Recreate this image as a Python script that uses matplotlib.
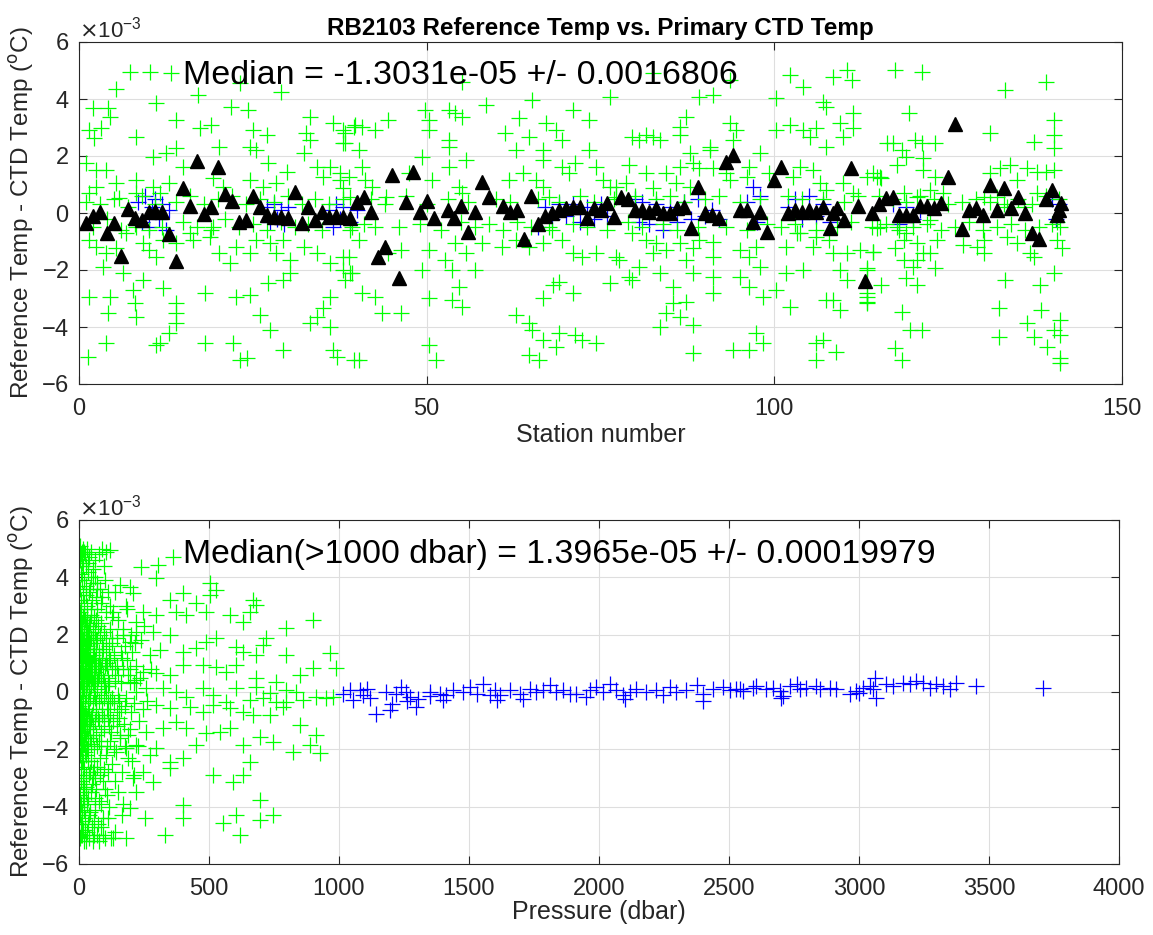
import numpy as np
import matplotlib
matplotlib.use("Agg")
import matplotlib.pyplot as plt
from matplotlib.ticker import ScalarFormatter, MultipleLocator

plt.rcParams['font.family'] = ['Liberation Sans', 'DejaVu Sans']
plt.rcParams['axes.unicode_minus'] = False

# ---------------- DATA (values in units of 1e-3 degC) ----------------
title_text = "RB2103 Reference Temp vs. Primary CTD Temp"
top_median_text = "Median = -1.3031e-05 +/- 0.0016806"
bot_median_text = "Median(>1000 dbar) = 1.3965e-05 +/- 0.00019979"

# top panel: green crosses (station, diff)
top_green = [
    (7.3,4.96),(10.2,4.96),(13.3,4.90),(5.3,4.34),(11.1,3.85),(2.0,3.67),(4.1,3.67),(4.4,3.38),(1.5,2.91),(3.2,2.97),
    (2.2,2.62),(8.2,2.68),(14.0,3.26),(17.4,2.97),(19.0,3.09),(20.2,2.33),(17.1,4.14),(21.9,3.73),(24.3,3.61),(25.0,2.91),
    (27.0,2.74),(24.6,2.33),(25.5,2.21),(27.2,1.74),(23.1,4.55),(29.1,4.26),(33.2,3.38),(32.7,2.80),(33.2,2.56),(32.3,2.09),
    (36.6,3.15),(38.0,2.91),(38.0,2.44),(36.1,1.63),(37.5,1.39),(39.5,3.03),
    (1.0,1.74),(2.5,1.51),(3.9,1.51),(5.3,1.04),(8.2,1.16),(10.6,1.98),(12.5,2.09),(14.0,2.27),(15.0,1.63),(13.0,1.04),
    (11.6,0.69),(10.6,0.92),(19.3,1.22),(20.7,0.92),(24.6,1.16),(26.5,0.92),(28.4,1.04),(29.9,1.45),(34.2,1.63),(35.1,1.27),
    (37.5,1.16),(38.0,0.87),(39.0,0.57),(8.2,0.69),(5.8,0.51),(2.5,0.92),(1.5,0.69),
    (1.5,-0.95),(2.5,-1.18),(3.9,-1.42),(5.3,-1.24),(3.4,-1.88),(6.3,-2.12),(9.2,-1.06),(11.1,-1.53),(10.1,-1.30),(12.1,-0.95),
    (14.0,-1.06),(15.9,-0.71),(16.4,-0.95),(18.8,-0.83),(19.3,-0.48),(20.2,-1.42),(21.7,-1.77),(22.6,-1.18),(24.6,-1.42),(25.5,-0.95),
    (27.5,-1.06),(28.4,-1.42),(29.4,-0.95),(30.3,-1.65),(32.3,-1.18),(34.2,-1.42),(36.1,-1.77),(38.0,-1.53),(39.0,-2.12),(8.2,-0.48),
    (6.8,-0.71),
    (9.2,-2.35),(7.7,-2.70),(8.0,-3.17),(8.2,-3.64),(12.1,-2.64),(14.0,-3.17),(14.0,-3.52),(14.0,-3.87),(13.0,-4.22),(11.6,-4.57),
    (1.5,-2.94),(4.4,-2.94),(4.1,-3.52),(3.9,-4.57),(1.25,-5.04),(11.1,-4.63),(18.1,-2.82),(18.1,-4.57),(22.6,-2.94),(24.6,-2.88),
    (22.2,-4.57),(24.1,-5.10),(23.1,-5.16),(27.2,-2.47),(29.4,-2.35),(30.3,-2.12),(26.0,-3.58),(27.5,-4.11),(29.4,-4.81),(33.2,-3.87),
    (34.2,-3.64),(36.1,-3.99),(35.1,-3.35),(38.0,-2.00),(36.1,-2.94),(36.6,-4.81),(37.1,-5.04),(39.5,-5.16),
    (55.1,4.61),(49.8,3.61),(50.3,3.26),(50.3,2.91),(53.2,3.61),(54.1,3.50),(55.1,3.38),(58.5,3.79),(65.2,3.96),(63.3,3.32),
    (61.3,2.80),(67.1,3.15),(68.6,2.91),(69.5,2.56),(71.0,3.61),(73.4,3.26),(76.3,4.08),(39.7,3.09),(40.7,3.03),(42.6,2.91),
    (44.5,3.26),(38.3,2.80),(38.3,2.44),(40.2,2.21),(53.2,2.56),(53.2,2.33),(62.8,2.21),(64.7,2.68),(66.7,2.21),(73.4,2.21),
    (71.4,1.74),(66.7,1.86),(69.5,1.63),(55.6,1.86),(53.2,1.63),(49.3,1.98),(47.4,1.39),(40.7,1.63),(38.8,1.27),(41.2,1.16),
    (42.2,0.92),(44.1,0.57),(50.8,1.16),(54.6,0.92),(55.1,0.69),(61.8,1.16),(63.8,1.39),(65.7,1.16),(66.7,0.92),(67.6,0.57),
    (70.5,1.39),(74.3,1.63),(75.3,1.16),(76.3,0.92),(77.2,0.57),
    (39.2,-0.48),(40.2,-0.95),(38.8,-1.53),(42.6,-0.48),(44.5,-1.42),(46.3,-1.30),(50.3,-1.30),(52.7,-1.65),(54.1,-1.06),(55.6,-1.42),
    (57.9,-1.06),(60.9,-1.18),(62.8,-0.95),(64.7,-1.18),(66.7,-1.06),(67.6,-0.48),(69.5,-0.95),(71.0,-1.42),(72.4,-1.53),(74.3,-1.42),
    (77.2,-1.53),(39.2,-2.12),(38.3,-2.35),(40.7,-2.82),(42.6,-2.94),(43.6,-3.52),(46.3,-3.52),(49.3,-2.00),(53.7,-2.00),(57.0,-2.00),
    (54.6,-2.58),(50.3,-2.99),(53.7,-3.05),(55.1,-3.29),(62.8,-3.58),(64.7,-3.87),(66.7,-2.99),(68.1,-2.53),(69.0,-2.41),(71.0,-2.82),
    (76.3,-2.47),(65.2,-4.11),(66.7,-4.46),(69.0,-4.22),(71.4,-4.28),(72.4,-4.46),(74.3,-4.57),(68.6,-4.69),(64.7,-4.98),(66.2,-5.16),
    (50.3,-4.63),(51.3,-5.16),(40.2,-5.16),
    (82.5,4.90),(89.2,4.08),(91.2,4.14),(93.6,4.67),(100.3,4.02),(102.2,4.84),(104.1,4.43),(107.0,3.91),(108.4,4.78),(110.4,5.02),
    (111.1,4.67),(107.5,3.73),(111.3,3.50),(109.4,3.15),(111.3,2.97),(104.1,2.91),(102.2,3.09),(100.3,2.91),(106.0,2.97),(105.1,2.68),
    (107.5,2.33),(109.9,2.68),(86.4,3.03),(87.3,3.38),(86.4,2.74),(79.6,2.68),(80.6,2.56),(81.5,2.74),(82.5,2.68),(83.5,2.56),
    (90.7,2.33),(93.6,3.15),(94.5,2.91),(94.1,2.56),(87.8,2.09),(88.3,1.74),(90.7,2.21),(91.2,1.57),(89.2,1.57),(97.9,2.09),
    (99.3,1.39),(96.4,1.63),(96.0,1.27),(81.5,1.39),(84.4,1.39),(86.4,1.63),(85.9,1.04),(79.1,1.68),(77.2,0.92),(78.7,1.04),
    (82.5,0.87),(87.8,0.92),(93.0,1.39),(93.6,1.16),(102.7,1.27),(103.7,1.63),(105.6,1.51),(106.5,1.04),(107.5,0.81),(109.9,1.04),
    (111.3,0.69),(114.2,1.39),(115.2,1.27),(116.2,2.44),
    (79.6,-0.71),(81.5,-0.95),(83.0,-1.06),(84.4,-1.30),(86.4,-1.06),(88.3,-1.24),(89.2,-0.95),(91.2,-1.01),(82.5,-1.42),(80.6,-1.88),
    (79.6,-2.35),(83.5,-2.12),(85.4,-2.58),(87.3,-1.65),(88.3,-2.12),(91.2,-1.53),(91.2,-2.23),(91.2,-2.82),(95.0,-1.30),(96.4,-1.53),
    (97.4,-1.18),(97.9,-1.88),(95.0,-2.23),(96.4,-2.58),(98.4,-2.94),(100.3,-2.70),(101.7,-1.18),(103.7,-0.71),(101.7,-2.12),(104.1,-2.00),
    (105.6,-1.18),(106.0,-0.83),(107.9,-0.95),(108.4,-1.42),(110.4,-1.42),(109.4,-2.00),(110.4,-2.35),(112.3,-1.30),(114.2,-1.36),(115.2,-0.48),
    (113.3,-2.00),(113.3,-2.82),(113.3,-3.17),(108.4,-3.05),(109.4,-3.40),(107.5,-3.05),(102.2,-3.29),(103.2,-0.71),(83.5,-3.99),(84.4,-3.52),
    (85.4,-3.17),(86.4,-3.64),(87.3,-3.11),(88.3,-3.93),(79.1,-2.23),(77.7,-1.65),(88.3,-4.92),(94.1,-4.81),(96.4,-4.81),(97.4,-4.22),
    (98.4,-4.57),(106.0,-4.57),(107.0,-4.46),(106.0,-5.16),(108.9,-4.87),
    (117.3,5.02),(121.2,4.96),(133.2,4.32),(139.1,4.61),(119.3,3.50),(131.0,2.80),(137.3,2.50),(140.2,3.26),(140.2,2.74),(140.2,2.27),
    (117.1,2.44),(118.3,2.21),(120.2,2.56),(121.2,2.44),(123.1,2.44),(117.6,1.68),(119.0,1.98),(121.4,1.92),(121.4,1.51),(123.1,1.27),
    (113.3,1.27),(114.7,1.27),(115.4,1.22),(131.0,1.39),(132.5,1.57),(133.9,1.68),(136.3,1.57),(137.8,1.45),(139.0,1.45),(140.2,1.51),
    (134.9,1.16),(122.4,0.81),(124.3,0.69),(118.6,0.69),(120.5,0.57),(130.1,0.57),(132.0,0.57),(133.5,0.22),(135.9,0.22),(137.8,0.69),
    (140.7,-0.30),(141.1,-0.48),(114.7,-0.54),(117.6,-0.48),(119.0,-0.71),(122.4,-0.25),(123.4,-0.95),(118.6,-0.95),(120.5,-1.06),(127.2,-1.12),
    (129.1,-1.18),(130.1,-0.95),(130.1,-1.42),(133.5,-0.83),(134.9,-1.06),(136.8,-1.42),(137.3,-1.53),(140.7,-0.95),(141.4,-1.24),(114.2,-1.36),
    (117.3,-1.24),(118.6,-1.65),(120.5,-1.65),(120.0,-1.88),(121.4,-1.42),(122.4,-1.42),(123.1,-1.94),(113.3,-1.94),(119.0,-2.29),(120.5,-2.53),
    (115.4,-2.53),(113.3,-2.94),(113.3,-3.11),(133.2,-2.35),(138.2,-2.53),(140.2,-2.12),(118.3,-3.46),(119.5,-4.11),(121.2,-4.11),(132.3,-3.35),
    (138.3,-3.40),(136.3,-3.87),(141.1,-3.75),(132.3,-4.34),(137.3,-4.34),(140.2,-4.11),(141.1,-4.28),(139.2,-4.69),(117.3,-4.75),(118.3,-5.16),
    (141.1,-5.10),(141.1,-5.27),
    # dense band around zero
    (1,0.4),(2,-0.5),(3,0.3),(4,-0.2),(5,0.5),(6,-0.6),(7,0.2),(8,-0.4),(9,0.6),(10,-0.6),(11,0.3),(12,-0.5),(14,0.4),(15,-0.3),
    (16,0.6),(17,-0.5),(18,0.3),(19,-0.6),(20,0.5),(21,-0.2),(22,0.6),(23,-0.5),(24,0.3),(25,-0.4),(26,0.5),(27,-0.6),(28,0.4),
    (29,-0.3),(30,0.6),(31,-0.5),(32,0.3),(33,-0.4),(34,0.5),(35,-0.6),(36,0.3),(38,0.5),(39,-0.6),(41,-0.4),(42,0.5),(44,0.3),
    (46,-0.5),(47,0.6),(49,-0.4),(50,0.3),(52,-0.6),(53,0.5),(55,-0.3),(56,0.4),(57,-0.5),(59,-0.4),(60,0.5),(61,-0.6),(62,0.4),
    (63,-0.3),(65,-0.5),(66,0.5),(68,-0.6),(69,0.4),(71,-0.4),(72,0.6),(73,-0.5),(74,0.4),(76,-0.6),(77,0.5),(79,-0.3),(80,0.6),
    (81,-0.5),(83,0.5),(84,-0.4),(85,0.6),(86,-0.6),(87,0.4),(89,-0.5),(90,0.5),(92,0.6),(93,-0.5),(95,0.4),(96,-0.6),(98,0.5),
    (99,-0.4),(101,-0.5),(102,0.6),(103,-0.4),(104,0.5),(106,-0.6),(107,0.5),(109,-0.5),(110,0.4),(111,-0.3),(112,0.6),(114,-0.5),
    (115,0.6),(116,-0.4),(117,0.5),(118,-0.6),(119,0.4),(120,-0.5),(121,0.6),(122,-0.4),(123,0.5),(124,-0.6),(125,0.3),(126,-0.5),
    (127,0.4),(128,-0.3),(129,0.5),(130,-0.6),(131,0.4),(132,-0.5),(133,0.3),(134,-0.4),(135,0.5),(136,-0.6),(137,0.3),(138,-0.5),
    (139,0.6),(140,-0.4),(141,0.5),
]

# top panel: blue crosses (deep bottles, station, diff)
top_blue = [
    (8.5,0.4),(9,-0.3),(9.5,0.6),(10,-0.5),(10.5,0.2),(11,0.5),(11.5,-0.2),(12,0.3),(12.5,-0.6),(13,0.1),
    (27,0.2),(27.5,-0.3),(28,0.3),(28.5,-0.2),(29,0.1),(29.5,-0.4),(30,0.2),
    (36,0.1),(36.5,-0.5),(37,0.3),(37.5,-0.2),(38,0.2),(39,-0.3),(40,0.1),
    (66,-0.5),(67,0.2),(68,-0.2),(69,0.3),(70,-0.1),(71,0.3),(72,-0.3),(73,0.2),(74,-0.2),(75,0.3),(76,-0.1),
    (80,0.5),(80.5,-0.3),(81,0.4),(82,-0.4),(83,0.3),(84,-0.6),(85,0.2),(86,-0.3),(87,0.4),(88,-0.2),(89,0.5),
    (90,-0.1),(91,0.1),(92,-0.2),(96,0.4),(97,0.9),(97.5,-0.3),(98,0.6),
    (102,0.2),(103,0.5),(104,-0.2),(105,0.6),(106,-0.1),(107,0.3),(108,-0.3),
    (117,0.3),(118,-0.4),(119,0.2),(120,-0.2),(121,0.1),
    (140,0.5),(140.5,-0.2),(141,0.3),
]

# top panel: black triangles (station median)
station_median = [
    (1,-0.34),(2,-0.10),(3,0.05),(4,-0.71),(5,-0.36),(6,-1.50),(7,0.13),(8,-0.19),(9,-0.25),(10,0.05),
    (11,0.08),(12,0.05),(13,-0.74),(14,-1.70),(15,0.88),(16,0.26),(17,1.84),(18,-0.04),(19,0.22),(20,1.63),
    (21,0.67),(22,0.42),(23,-0.30),(24,-0.26),(25,0.60),(26,0.22),(27,-0.07),(28,-0.13),(29,-0.13),(30,-0.19),
    (31,0.73),(32,-0.36),(33,0.22),(34,-0.25),(35,0.05),(36,-0.13),(37,-0.10),(38,-0.13),(39,-0.19),(40,0.40),
    (41,0.57),(42,0.05),(43,-1.53),(44,-1.18),(45,1.33),(46,-2.29),(47,0.37),(48,1.43),(49,0.05),(50,0.42),
    (51,-0.19),(53,0.10),(54,-0.16),(55,0.26),(56,-0.65),(57,0.05),(58,1.10),(59,0.57),(61,0.26),(62,0.05),
    (63,0.10),(64,-0.92),(65,0.60),(66,-0.40),(67,-0.10),(68,0.00),(69,0.10),(70,0.16),(71,0.22),(72,0.22),
    (73,-0.19),(74,0.16),(75,0.10),(76,0.34),(77,-0.13),(78,0.57),(79,0.48),(80,0.10),(81,0.10),(82,0.05),
    (83,0.16),(84,0.00),(85,0.00),(86,0.16),(87,0.22),(88,-0.51),(89,0.92),(90,0.00),(91,-0.07),(92,-0.19),
    (93,1.80),(94,2.03),(95,0.10),(96,0.10),(97,-0.30),(98,0.05),(99,-0.65),(100,1.16),(101,1.63),(102,0.00),
    (103,0.10),(104,0.05),(105,0.10),(106,0.05),(107,0.22),(108,-0.54),(108.5,0.00),(109,0.16),(110,-0.25),(111,1.57),
    (112,0.26),(113,-2.37),(114,0.00),(115,0.32),(116,0.51),(117,0.55),(118,-0.07),(119,-0.07),(120,-0.07),(121,0.26),
    (122,0.26),(123,0.16),(124,0.34),(125,1.27),(126,3.12),(127,-0.57),(128,0.10),(129,0.16),(130,-0.07),(131,0.98),
    (132,0.10),(133,0.87),(134,0.16),(135,0.57),(136,0.00),(137,-0.71),(138,-0.92),(139,0.48),(140,0.81),(140.6,-0.07),
    (141,0.10),(141.2,0.34),
]

# bottom panel: green crosses (pressure dbar, diff)
bot_green = [
    (118,4.95),(240,4.37),(304,4.43),(362,4.72),(297,3.97),(195,3.67),(156,3.73),(208,3.44),(349,3.21),(400,3.44),
    (451,3.09),(503,3.79),(528,3.56),(503,3.38),(669,3.21),(682,3.03),(656,2.80),(579,2.69),(631,2.45),(490,2.80),
    (413,2.69),(374,2.80),(297,2.69),(246,2.80),(220,2.45),(900,2.51),(797,2.22),(720,1.87),(528,1.87),(490,1.76),
    (349,1.99),(285,2.10),(220,2.10),(195,1.76),(169,1.99),(451,1.52),(400,1.41),(310,1.47),(272,1.29),(605,1.58),
    (631,1.41),(682,1.29),(708,1.64),(797,1.29),(964,1.35),(900,0.83),(990,0.83),(849,0.59),(759,0.36),(682,0.48),
    (605,0.94),(567,0.71),(528,0.88),(477,0.94),(400,0.94),(349,0.59),(297,0.65),(246,0.71),(220,0.42),(195,0.36),
    (259,0.13),(323,0.13),(374,0.01),(413,-0.16),(477,0.13),(515,-0.10),(567,-0.34),(605,0.13),(656,-0.28),(708,-0.22),
    (759,-0.34),(797,-0.34),(862,-0.28),(913,-0.16),(951,-0.22),(977,-0.16),(797,0.07),(836,0.01),(733,-0.05),(682,0.19),
    (297,-0.45),(349,-0.57),(426,-0.51),(477,-0.69),(515,-0.45),(579,-0.57),(631,-0.69),(669,-0.80),(733,-0.80),(785,-0.51),
    (849,-1.15),(913,-1.50),(887,-1.85),(926,-2.14),(823,-2.08),(746,-1.73),(695,-1.56),(631,-1.85),(579,-1.27),(541,-1.38),
    (490,-1.44),(451,-1.85),(400,-2.31),(349,-2.43),(297,-1.97),(272,-2.20),(220,-1.85),(182,-1.97),(156,-1.50),(246,-2.78),
    (285,-3.13),(208,-3.01),(349,-2.66),(515,-2.90),(592,-3.13),(631,-2.90),(656,-2.43),(695,-3.77),(746,-4.29),(695,-4.47),
    (605,-4.29),(618,-4.99),(554,-4.58),(400,-3.94),(400,-4.41),(329,-4.99),(253,-4.41),(195,-4.06),(182,-5.10),(131,-5.10),
    (92,-4.99),(413,-1.27),(374,-1.03),(323,-1.27),(259,-1.38),
    (5,5.1),(10,4.9),(15,5.0),(22,4.8),(30,5.0),(40,4.7),(48,4.9),(60,4.6),(75,4.8),(90,5.0),
    (12,4.5),(25,4.4),(35,4.2),(8,4.1),(18,3.9),(45,4.0),(55,3.8),(28,3.7),(3,3.6),(14,3.4),
    (38,3.5),(65,3.3),(80,3.6),(100,3.9),(110,3.5),(6,3.2),(20,3.1),(32,3.0),(50,3.2),(70,2.9),
    (85,3.1),(120,3.0),(130,2.8),
    (2,2.8),(4,2.5),(7,2.2),(9,2.6),(11,2.0),(13,2.4),(16,1.8),(19,2.7),(21,2.1),(24,1.6),
    (26,2.3),(29,1.9),(31,2.6),(34,1.4),(36,2.0),(39,1.7),(42,2.4),(44,1.2),(47,1.9),(52,2.2),
    (56,1.5),(58,2.6),(62,1.1),(66,1.8),(72,2.3),(78,1.4),(82,0.9),(88,1.7),(95,2.1),(105,1.0),
    (115,1.6),(125,0.8),(135,1.3),(3,1.5),(6,1.1),(8,0.8),(10,1.4),(12,0.6),(15,1.0),(17,0.5),
    (20,1.3),(23,0.7),(27,1.1),(30,0.6),(33,0.9),(37,0.4),(41,0.8),(46,0.5),(50,1.0),(54,0.3),
    (60,0.7),(68,0.4),(74,0.9),(85,0.3),(92,0.6),(100,0.2),(110,0.5),(140,0.4),
    (1,0.2),(2,-0.3),(4,0.1),(5,-0.1),(7,0.4),(9,-0.4),(11,0.0),(14,0.3),(16,-0.2),(18,0.1),
    (22,-0.4),(25,0.2),(28,-0.1),(32,0.3),(35,-0.3),(40,0.0),(43,-0.2),(48,0.2),(53,-0.4),(58,0.0),
    (63,-0.2),(70,0.1),(76,-0.3),(84,-0.1),(95,-0.2),(105,0.0),(120,-0.3),(150,-0.1),
    (2,-0.8),(3,-1.2),(5,-1.6),(6,-0.6),(8,-2.0),(10,-1.0),(12,-1.4),(13,-2.4),(15,-0.7),(17,-1.8),
    (19,-1.1),(21,-2.7),(23,-1.5),(26,-0.9),(28,-2.2),(31,-1.3),(34,-0.6),(36,-1.9),(38,-2.9),(41,-1.0),
    (44,-1.6),(47,-2.4),(51,-0.8),(55,-1.2),(59,-2.0),(64,-0.7),(67,-1.5),(71,-2.6),(77,-1.0),(83,-1.9),
    (89,-0.6),(96,-1.3),(102,-2.2),(112,-0.9),(118,-1.7),(128,-2.5),(145,-1.2),
    (1,-3.2),(3,-4.0),(4,-3.6),(6,-4.6),(7,-3.1),(9,-5.0),(11,-4.2),(14,-3.4),(16,-4.8),(18,-3.8),
    (20,-5.2),(24,-4.4),(27,-3.3),(30,-4.9),(33,-3.7),(37,-4.3),(40,-5.1),(45,-3.5),(49,-4.7),(53,-3.0),
    (57,-5.0),(62,-4.1),(66,-3.4),(72,-4.6),(78,-5.2),(86,-3.9),(93,-4.4),(108,-3.6),(116,-4.0),(122,-5.1),
    (138,-4.9),(150,-3.5),(165,-4.3),
    (150,2.5),(160,1.4),(170,0.8),(175,-0.5),(185,1.1),(200,-0.7),(210,0.3),(230,-1.0),(240,1.8),(165,-2.8),
    (190,-2.3),(220,-3.5),(140,3.5),(155,-0.3),
    # more of the dense shallow cloud
    (1,1.0),(2,1.8),(3,2.3),(4,0.7),(5,1.3),(6,2.0),(7,0.9),(8,1.6),(9,2.9),(10,0.3),(11,1.7),(12,2.2),(13,1.1),
    (14,0.8),(15,2.6),(16,1.4),(17,0.2),(18,2.1),(19,0.6),(20,1.9),(21,0.4),(22,1.2),(23,2.5),(24,0.9),(25,1.5),
    (26,0.1),(27,1.8),(28,0.7),(29,2.4),(30,1.2),(31,0.3),(32,1.6),(33,2.1),(34,0.5),(35,1.0),(36,1.5),(37,2.3),
    (38,0.8),(39,1.1),(40,2.0),(42,0.6),(44,1.7),(46,1.0),(48,2.7),(50,0.5),(52,1.3),(54,1.9),(56,0.7),(58,1.2),
    (60,2.1),(62,0.4),(64,1.5),(67,0.9),(70,1.8),(73,0.5),(76,1.2),(80,2.0),(84,0.8),(88,1.1),(92,1.5),(97,0.4),
    (103,1.9),(108,0.9),(114,1.2),(119,2.2),(126,1.7),
    (1,-0.5),(2,-1.5),(3,-0.7),(4,-2.2),(5,-0.9),(6,-1.3),(7,-2.6),(8,-0.8),(9,-1.7),(10,-2.3),(11,-0.6),(12,-1.0),
    (13,-1.8),(14,-3.0),(15,-1.2),(16,-0.9),(17,-2.4),(18,-1.5),(19,-3.3),(20,-0.8),(21,-1.8),(22,-2.1),(23,-0.6),
    (24,-1.2),(25,-2.9),(26,-1.6),(27,-0.8),(28,-3.5),(29,-1.1),(30,-2.0),(32,-0.9),(33,-1.6),(35,-2.4),(37,-1.2),
    (39,-0.7),(42,-2.8),(43,-1.3),(46,-0.9),(48,-1.8),(50,-3.2),(53,-1.5),(56,-2.6),(60,-1.0),(63,-3.0),(68,-1.9),
    (73,-0.9),(79,-2.3),(85,-1.4),(91,-3.1),(98,-0.9),(106,-1.9),(113,-2.8),(124,-1.4),
    (4,4.6),(9,4.8),(13,3.9),(17,4.4),(21,4.9),(26,3.4),(33,4.5),(42,3.6),(52,4.3),(63,4.0),(68,3.6),(95,4.4),
    (105,4.9),(2,-4.3),(5,-5.1),(8,-3.9),(10,-4.5),(13,-5.0),(15,-3.7),(19,-4.1),(22,-4.8),(26,-5.2),(29,-3.9),
    (35,-4.6),(43,-4.2),(52,-5.2),(59,-4.5),(69,-5.0),(75,-3.8),(83,-4.7),(100,-5.1),(112,-4.4),
    (102,2.8),(112,0.2),(118,-0.8),(128,1.9),(133,-0.4),(142,-2.1),(148,0.9),(158,-1.6),(162,0.3),(168,2.2),
    (172,-1.1),(178,1.6),(182,-0.2),(188,0.6),(195,-1.3),(205,1.4),(212,-0.4),(218,0.9),(225,-1.9),(235,0.5),
    (245,-0.6),(250,2.3),(262,-0.3),(275,0.8),
    (45,2.9),(55,-2.8),(65,2.5),(75,-1.7),(85,2.4),(95,-2.7),(105,1.4),(115,-1.2),(125,2.6),(135,-2.0),
    (145,1.9),(155,-0.9),(165,1.2),(175,-1.9),(185,2.9),(195,0.8),(205,-2.4),(215,1.7),(60,-3.7),(70,3.8),
    (80,-2.9),(90,3.3),(100,-3.4),(110,-0.4),(120,1.1),(130,-1.0),(140,-3.1),(150,0.6),(160,-0.6),(170,-3.9),
    (180,3.0),(190,-1.5),(200,2.0),(210,-2.9),(220,0.0),(57,0.5),(66,-0.4),(78,0.6),(87,-0.8),(99,0.9),
    (107,-0.6),(117,0.3),(127,-0.2),(137,0.8),(147,-0.7),
]

# bottom panel: blue crosses (pressure dbar, diff)
bot_blue = [
    (1016,-0.06),(1041,0.06),(1054,-0.29),(1080,0.06),(1093,-0.12),(1106,0.12),(1144,-0.76),(1182,0.00),(1195,-0.64),(1202,-0.41),
    (1221,-0.06),(1240,0.17),(1259,0.00),(1272,-0.17),(1298,-0.52),(1304,-0.23),(1349,0.00),(1388,-0.06),(1400,-0.29),(1413,-0.12),
    (1439,0.06),(1477,0.00),(1503,0.17),(1529,-0.06),(1554,0.29),(1580,-0.12),(1599,0.06),(1606,-0.29),(1657,0.06),(1695,-0.06),
    (1708,-0.23),(1734,0.12),(1759,0.00),(1785,0.06),(1811,0.23),(1836,0.00),(1862,0.06),(1888,-0.06),(1913,-0.06),(1965,0.06),
    (1990,0.17),(2016,0.00),(2041,0.29),(2067,0.06),(2093,-0.12),(2118,0.00),(2144,0.12),(2182,0.00),(2221,0.06),(2247,-0.12),
    (2272,0.17),(2298,0.00),(2336,0.06),(2375,0.23),(2400,-0.06),(2439,0.12),(2477,0.17),(2503,0.06),(2541,0.12),
    (2528,0.09),(2554,0.03),(2592,0.15),(2605,0.21),(2644,0.09),(2669,0.15),(2695,0.03),(2708,-0.14),(2734,0.21),(2760,0.27),
    (2772,0.09),(2798,0.15),(2836,0.21),(2849,0.09),(2888,0.15),(2913,0.09),(2965,-0.08),(2990,0.03),(3016,0.15),(3041,0.21),
    (3054,0.09),(3067,-0.20),(3105,0.27),(3131,0.21),(3169,0.33),(3195,0.27),(3220,0.38),(3246,0.33),(3272,0.15),(3297,0.27),
    (3323,0.21),(3349,0.09),(3374,0.33),(3451,0.21),(3708,0.15),
    (1120,-0.20),(1260,-0.30),(1350,-0.15),(1620,-0.10),(1950,-0.18),(2100,-0.25),(2400,-0.30),(2700,-0.20),(3000,-0.05),(3060,0.50),
]

# ---------------- FIGURE ----------------
W, H = 1153, 935
fig = plt.figure(figsize=(W/100, H/100), dpi=100)
ax1 = fig.add_axes([79/W, 1-384/H, 1043/W, 342/H])
ax2 = fig.add_axes([79/W, 1-864/H, 1040/W, 344/H])

GREEN = '#00ff00'
BLUE = '#0000ff'
TXT = '#262626'
SCALE = 1e-3

def xy(pairs):
    a = np.array(pairs, dtype=float)
    return a[:, 0], a[:, 1] * SCALE

cross = dict(linestyle='none', marker='+', markersize=11, markeredgewidth=0.9)

x, y = xy(top_blue)
ax1.plot(x, y, color=BLUE, **cross)
x, y = xy(top_green)
ax1.plot(x, y, color=GREEN, **cross)
x, y = xy(station_median)
ax1.plot(x, y, linestyle='none', marker='^', markersize=10.5, color='black')

x, y = xy(bot_green)
ax2.plot(x, y, color=GREEN, **cross)
x, y = xy(bot_blue)
ax2.plot(x, y, color=BLUE, **cross)

for ax in (ax1, ax2):
    ax.set_ylim(-6e-3, 6e-3)
    ax.yaxis.set_major_locator(MultipleLocator(2e-3))
    fmt = ScalarFormatter(useMathText=True)
    fmt.set_powerlimits((0, 0))
    ax.yaxis.set_major_formatter(fmt)
    ax.yaxis.get_offset_text().set_fontsize(16)
    ax.yaxis.get_offset_text().set_color(TXT)
    ax.grid(True, color='#dedede', linewidth=0.8)
    ax.set_axisbelow(True)
    ax.tick_params(direction='in', top=True, right=True, labelsize=17,
                   colors=TXT, length=6, width=0.8)
    ax.tick_params(axis='x', pad=10)
    ax.tick_params(axis='y', pad=7)
    for s in ax.spines.values():
        s.set_color(TXT)
        s.set_linewidth(0.8)
    ax.set_ylabel('Reference Temp - CTD Temp ($^{\\rm o}$C)', fontsize=17.5, color=TXT)

ax1.set_xlim(0, 150)
ax1.xaxis.set_major_locator(MultipleLocator(50))
ax1.set_xlabel('Station number', fontsize=18, color=TXT, labelpad=2)
ax1.set_title(title_text, fontsize=17.5, fontweight='bold', color='black', pad=5)
ax1.text(15, 4.84e-3, top_median_text, fontsize=24.5, va='center', ha='left', color='black')

ax2.set_xlim(0, 4000)
ax2.xaxis.set_major_locator(MultipleLocator(500))
ax2.set_xlabel('Pressure (dbar)', fontsize=18, color=TXT, labelpad=0)
ax2.text(400, 4.78e-3, bot_median_text, fontsize=24.3, va='center', ha='left', color='black')

fig.savefig('out.png', dpi=100)
